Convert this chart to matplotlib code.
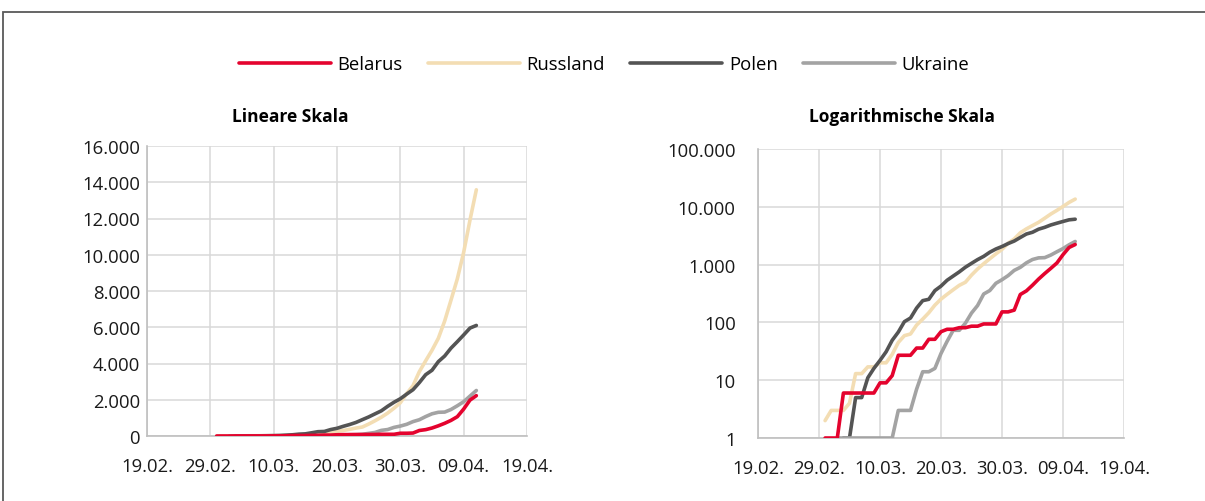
import numpy as np
import matplotlib
matplotlib.use("Agg")
import matplotlib.pyplot as plt
import matplotlib.dates as mdates
import matplotlib.ticker as mticker
from matplotlib.patches import Rectangle

plt.rcParams['font.family'] = ['Open Sans', 'DejaVu Sans']

# confirmed cases, daily from 01.03.2020 to 11.04.2020
dates = np.arange('2020-03-01', '2020-04-12', dtype='datetime64[D]')
nan = np.nan

belarus = [1, 1, 1, 6, 6, 6, 6, 6, 6, 9, 9, 12, 27, 27, 27, 36, 36, 51, 51, 69,
           76, 76, 81, 81, 86, 86, 94, 94, 94, 152, 152, 163, 304, 351, 440, 562,
           700, 861, 1066, 1486, 1981, 2226]
russland = [2, 3, 3, 3, 4, 13, 13, 17, 17, 20, 20, 28, 45, 59, 63, 90, 114, 147,
            199, 253, 306, 367, 438, 495, 658, 840, 1036, 1264, 1534, 1836, 2337,
            2777, 3548, 4149, 4731, 5389, 6343, 7497, 8672, 10131, 11917, 13584]
polen = [nan, nan, nan, 1, 1, 5, 5, 11, 16, 22, 31, 49, 68, 103, 119, 177, 238,
         251, 355, 425, 536, 634, 749, 901, 1051, 1221, 1389, 1638, 1862, 2055,
         2311, 2554, 2946, 3383, 3627, 4102, 4413, 4848, 5205, 5575, 5955, 6100]
ukraine = [nan, nan, 1, 1, 1, 1, 1, 1, 1, 1, 1, 1, 3, 3, 3, 7, 14, 14, 16, 29,
           47, 73, 73, 97, 145, 196, 310, 356, 475, 548, 645, 794, 897, 1072,
           1225, 1308, 1319, 1462, 1668, 1892, 2203, 2511]

# name, values, colour, zorder (Belarus on top)
series = [
    ("Belarus", belarus, "#e4032e", 5),
    ("Russland", russland, "#f3ddb3", 3),
    ("Polen", polen, "#545454", 3),
    ("Ukraine", ukraine, "#a3a3a3", 3),
]

x_ticks = np.arange('2020-02-19', '2020-04-20', 10, dtype='datetime64[D]')
lin_ticks = np.arange(0, 16001, 2000)
log_ticks = [1, 10, 100, 1000, 10000, 100000]


def de_fmt(v, pos=None):
    return f"{int(round(v)):,}".replace(",", ".")


fig = plt.figure(figsize=(12.05, 5.02), dpi=100)

# outer frame
fig.patches.append(Rectangle((3 / 1205, -0.2), 1.2, 1.2 - 13 / 502,
                             transform=fig.transFigure, fill=False,
                             edgecolor="#595959", lw=1.3))

ax1 = fig.add_axes([147 / 1205, 65 / 502, 380 / 1205, 290 / 502])
ax2 = fig.add_axes([758 / 1205, 63 / 502, 366 / 1205, 289 / 502])

for ax in (ax1, ax2):
    for name, vals, col, z in series:
        ax.plot(dates, vals, color=col, lw=2.6, label=name, zorder=z,
                solid_capstyle='round')
    ax.set_xlim(x_ticks[0], x_ticks[-1])
    ax.set_xticks(x_ticks)
    ax.xaxis.set_major_formatter(mdates.DateFormatter('%d.%m.'))
    ax.grid(True, color="#d9d9d9", lw=1.1)
    ax.set_axisbelow(True)
    for s in ("top", "right"):
        ax.spines[s].set_visible(False)
    for s in ("left", "bottom"):
        ax.spines[s].set_color("#bfbfbf")
        ax.spines[s].set_linewidth(1.2)
    ax.tick_params(length=0, labelsize=13.3, colors="#1a1a1a")
    ax.tick_params(axis='x', pad=15)

ax1.set_ylim(0, 16000)
ax1.set_yticks(lin_ticks)
ax1.yaxis.set_major_formatter(mticker.FuncFormatter(de_fmt))
ax1.tick_params(axis='y', pad=5)

ax2.set_yscale('log')
ax2.set_ylim(1, 100000)
ax2.set_yticks(log_ticks)
ax2.yaxis.set_major_formatter(mticker.FuncFormatter(de_fmt))
ax2.yaxis.set_minor_locator(mticker.NullLocator())
ax2.tick_params(axis='y', pad=16)

fig.text(290 / 1205, 1 - 117 / 502, "Lineare Skala", ha="center", va="center",
         fontsize=12.5, fontweight="bold")
fig.text(902 / 1205, 1 - 117 / 502, "Logarithmische Skala", ha="center",
         va="center", fontsize=12.5, fontweight="bold")

handles, labels = ax1.get_legend_handles_labels()
fig.legend(handles, labels, loc="center", bbox_to_anchor=(604 / 1205, 1 - 65 / 502),
           ncol=4, frameon=False, fontsize=13.3, handlelength=5.0,
           handletextpad=0.35, columnspacing=1.35)

fig.savefig("out.png", dpi=100)
